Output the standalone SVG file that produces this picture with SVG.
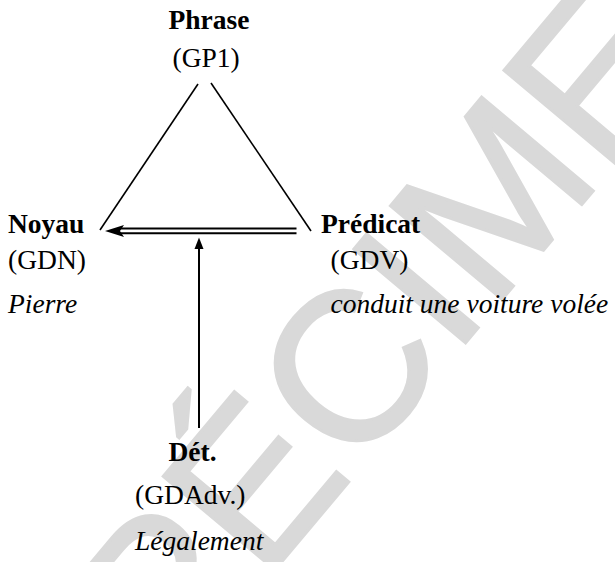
<svg xmlns="http://www.w3.org/2000/svg" width="615" height="562" viewBox="0 0 615 562">
<style>
  text.t { font-family: "Liberation Serif", "Times New Roman", serif; font-size: 27.5px; fill: #000; }
  text.b { font-weight: bold; }
  text.i { font-style: italic; }
  text.wm { font-family: "Liberation Sans", Arial, sans-serif; font-size: 212px; fill: #d9d9d9; stroke: #d9d9d9; stroke-width: 3; }
  .edge { stroke: #000; stroke-width: 1.6; fill: none; }
  .dbl { stroke: #000; stroke-width: 2; fill: none; }
</style>
<rect width="615" height="562" fill="#fff"/>
<g id="watermark">
  <text class="wm" transform="translate(82,800) rotate(-50)" x="0" y="0">SPÉCIMEN</text>
</g>
<g id="connectors">
  <line class="edge" x1="198" y1="84" x2="100" y2="230"/>
  <line class="edge" x1="211" y1="83" x2="311" y2="231"/>
  <line class="dbl" x1="296.5" y1="228.5" x2="120" y2="228.5"/>
  <line class="dbl" x1="296.5" y1="233.3" x2="120" y2="233.3"/>
  <polygon points="105,231 124,225 120,231 124,237" fill="#000"/>
  <line class="dbl" x1="199" y1="428" x2="199" y2="247"/>
  <polygon points="199,237.5 203.5,249 194.5,249" fill="#000"/>
</g>
<g id="phrase">
  <text class="t b" x="168.5" y="29">Phrase</text>
  <text class="t" x="172.5" y="67">(GP1)</text>
</g>
<g id="noyau">
  <text class="t b" x="8" y="233">Noyau</text>
  <text class="t" x="8" y="269">(GDN)</text>
  <text class="t i" x="8" y="313">Pierre</text>
</g>
<g id="predicat">
  <text class="t b" x="321" y="233">Prédicat</text>
  <text class="t" x="330.5" y="269">(GDV)</text>
  <text class="t i" x="330.5" y="313">conduit une voiture volée</text>
</g>
<g id="det">
  <text class="t b" x="168.5" y="461">Dét.</text>
  <text class="t" x="135" y="504">(GDAdv.)</text>
  <text class="t i" x="135" y="550">Légalement</text>
</g>
</svg>
